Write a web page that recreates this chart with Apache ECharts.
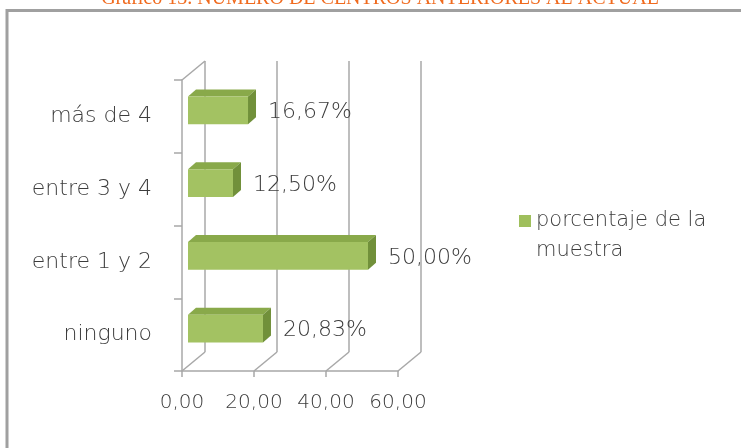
<!DOCTYPE html>
<html>
<head>
<meta charset="utf-8">
<script src="https://cdn.jsdelivr.net/npm/echarts@6/dist/echarts.min.js"></script>
<style>
  html, body { margin: 0; padding: 0; background: #ffffff; }
  #chart { width: 741px; height: 448px; }
</style>
</head>
<body>
<div id="chart"></div>
<script>
// Number of previous schools (share of the sample, %)
const categories = ['ninguno', 'entre 1 y 2', 'entre 3 y 4', 'más de 4'];
const percentages = [20.83, 50.00, 12.50, 16.67];
const axisTicks = [0, 20, 40, 60];
const seriesName = 'porcentaje de la muestra';
const titleText = 'Gráfico 13. NÚMERO DE CENTROS ANTERIORES AL ACTUAL';

const FONT = "'DejaVu Sans', sans-serif";
const WEIGHT = 200;
const TEXT_COLOR = '#3c3c3c';
const LINE_COLOR = '#a8a8a8';

// 3D look: the back wall is pushed right/up, bars sit part way into the depth
const WALL_DX = 23, WALL_DY = -19;
const BAR_DX = 6, BAR_DY = -6;
const DEPTH_DX = 8, DEPTH_DY = -7;

const fmt = v => v.toFixed(2).replace('.', ',');

const chart = echarts.init(document.getElementById('chart'), null, { renderer: 'canvas' });

// Back-wall gridlines and floor diagonals, placed from the value axis
function renderFrame(params, api) {
  const v = api.value(0);
  const cs = params.coordSys;
  const bottom = cs.y + cs.height;
  const px = api.coord([v, 0])[0];
  const style = { stroke: LINE_COLOR, lineWidth: 1.5, fill: null };
  const children = [
    { type: 'line', shape: { x1: px, y1: bottom, x2: px + WALL_DX, y2: bottom + WALL_DY }, style },
    { type: 'line', shape: { x1: px + WALL_DX, y1: bottom + WALL_DY, x2: px + WALL_DX, y2: cs.y + WALL_DY }, style }
  ];
  if (params.dataIndex === 0) {
    children.push({ type: 'line', shape: { x1: cs.x, y1: cs.y, x2: cs.x + WALL_DX, y2: cs.y + WALL_DY }, style });
  }
  return { type: 'group', children };
}

// Prism bars: front face, top face, right side, value label
function renderBar(params, api) {
  const v = api.value(0);
  const c = api.value(1);
  const p0 = api.coord([0, c]);
  const p1 = api.coord([v, c]);
  const band = api.size([0, 1])[1];
  const h = band * 0.38;
  const x0 = p0[0] + BAR_DX, x1 = p1[0] + BAR_DX;
  const yc = p0[1] + BAR_DY;
  const y0 = yc - h / 2, y1 = yc + h / 2;
  return {
    type: 'group',
    children: [
      { type: 'polygon', shape: { points: [[x0, y0], [x1, y0], [x1 + DEPTH_DX, y0 + DEPTH_DY], [x0 + DEPTH_DX, y0 + DEPTH_DY]] },
        style: { fill: '#89a94a' } },
      { type: 'polygon', shape: { points: [[x1, y0], [x1 + DEPTH_DX, y0 + DEPTH_DY], [x1 + DEPTH_DX, y1 + DEPTH_DY], [x1, y1]] },
        style: { fill: '#71903a' } },
      { type: 'rect', shape: { x: x0, y: y0, width: x1 - x0, height: h },
        style: { fill: '#a3c262' } },
      { type: 'text', x: x1 + DEPTH_DX + 12, y: yc + 2,
        style: { text: fmt(v) + '%', fill: TEXT_COLOR, font: WEIGHT + " 22px " + FONT, verticalAlign: 'middle', align: 'left' } }
    ]
  };
}

const option = {
  backgroundColor: '#ffffff',
  animation: false,
  textStyle: { fontFamily: FONT, fontWeight: WEIGHT },
  graphic: [
    { type: 'polyline', shape: { points: [[7, 448], [7, 10.5], [741, 10.5]] },
      style: { stroke: '#a0a0a0', lineWidth: 3, fill: null } },
    { type: 'text', x: 380, y: 9,
      style: { text: titleText, fill: '#f06a1e', font: "20px 'Liberation Serif', serif", align: 'center', verticalAlign: 'bottom' } }
  ],
  legend: {
    left: 514, top: 171,
    orient: 'vertical',
    icon: 'rect',
    itemWidth: 12, itemHeight: 12,
    data: [seriesName],
    // leading blank line keeps the first text line level with the swatch
    formatter: () => ' \nporcentaje de la\nmuestra',
    textStyle: { fontFamily: FONT, fontWeight: WEIGHT, fontSize: 21, color: TEXT_COLOR, lineHeight: 30 }
  },
  grid: { left: 182, top: 80, width: 216, height: 291, containLabel: false },
  xAxis: {
    type: 'value', min: axisTicks[0], max: axisTicks[axisTicks.length - 1], interval: 20,
    axisLine: { show: true, lineStyle: { color: LINE_COLOR, width: 1.5 } },
    axisTick: { show: true, length: 6, lineStyle: { color: LINE_COLOR, width: 1.5 } },
    splitLine: { show: false },
    axisLabel: { formatter: v => fmt(v), fontSize: 20, color: TEXT_COLOR, fontFamily: FONT, fontWeight: WEIGHT, margin: 22 }
  },
  yAxis: {
    type: 'category', data: categories,
    axisLine: { show: true, lineStyle: { color: LINE_COLOR, width: 1.5 } },
    axisTick: { show: true, length: 8, lineStyle: { color: LINE_COLOR, width: 1.5 } },
    axisLabel: { fontSize: 22, color: TEXT_COLOR, fontFamily: FONT, fontWeight: WEIGHT, margin: 30 }
  },
  series: [
    {
      type: 'custom', name: 'frame', silent: true,
      renderItem: renderFrame,
      data: axisTicks.map(t => [t]),
      encode: { x: 0 },
      z: 1
    },
    {
      type: 'custom', name: seriesName,
      renderItem: renderBar,
      itemStyle: { color: '#9fbf5c' },
      data: percentages.map((p, i) => [p, i]),
      encode: { x: 0, y: 1 },
      z: 3
    }
  ]
};

chart.setOption(option);
</script>
</body>
</html>
